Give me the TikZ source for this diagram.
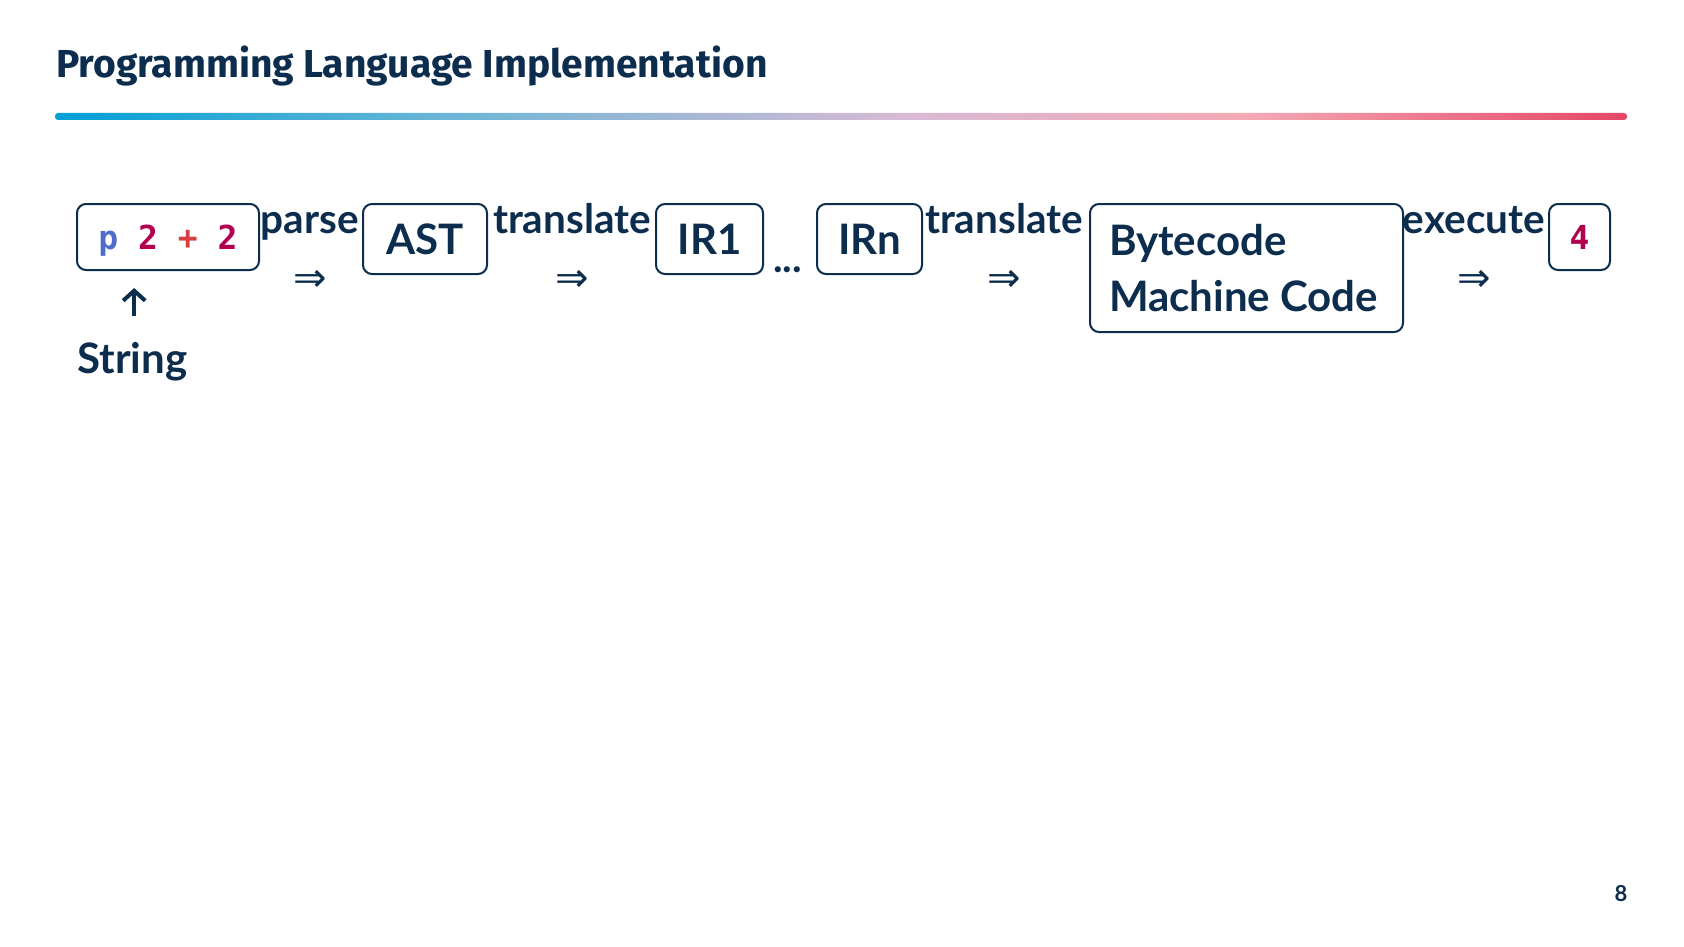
\documentclass[tikz,border=0pt]{standalone}
\usepackage{fontspec}
\setmainfont{Lato}
\setmonofont{DejaVu Sans Mono}
\newfontfamily\titlefont{Fira Sans}
\newfontfamily\arrowfont{DejaVu Sans}
\usetikzlibrary{positioning,arrows.meta}

\definecolor{navy}{RGB}{12,45,77}
\definecolor{kwblue}{RGB}{78,108,200}
\definecolor{numred}{RGB}{178,0,78}
\definecolor{opred}{RGB}{214,62,64}
\definecolor{barA}{RGB}{0,160,214}
\definecolor{barB}{RGB}{112,182,214}
\definecolor{barC}{RGB}{216,186,212}
\definecolor{barD}{RGB}{244,168,180}
\definecolor{barE}{RGB}{228,70,102}
\pgfdeclarehorizontalshading{titlebar}{100bp}{color(0bp)=(barA); color(25bp)=(barA); color(38bp)=(barB); color(52bp)=(barC); color(63bp)=(barD); color(75bp)=(barE); color(100bp)=(barE)}

\newcommand{\bodyfont}{\bfseries\fontsize{42}{56}\selectfont}
\newcommand{\passfont}{\bfseries\fontsize{40.5}{40.5}\selectfont}
\newcommand{\codefont}{\ttfamily\bfseries\fontsize{33}{40}\selectfont}

\tikzset{
    box/.style = {draw = navy, line width = 2pt, rounded corners = 9pt, text = navy, anchor = north west, inner xsep = 0pt, inner ysep = 20pt},
    stage/.style = {box, font = \bodyfont, text height = 30pt, text depth = 0pt},
    codebox/.style = {box, font = \codefont, text height = 25pt, text depth = 1pt},
    pass/.style = {text = navy, font = \passfont, inner sep = 0pt, anchor = base},
    thenarrow/.style = {text = navy, font = \arrowfont\fontsize{40}{40}\selectfont, inner sep = 0pt},
    uparrow/.style = {draw = navy, line width = 4pt, -{Straight Barb[length = 10pt, width = 22pt]}}
}

\begin{document}
\begin{tikzpicture}[x = 1pt, y = -1pt]
        \useasboundingbox (0, 0) rectangle (1684, 947);
        % title and bar
        \node [anchor = base west, inner sep = 0pt, text = navy, font = \titlefont\bfseries\fontsize{39}{39}\selectfont] (title) at (56, 78) {Programming Language Implementation};
        \shade [shading = titlebar, rounded corners = 3pt] (55, 113) rectangle (1627, 120);
        % pipeline
        \node [codebox, minimum width = 182pt] (src) at (76, 203) {\textcolor{kwblue}{p} \textcolor{numred}{2} \textcolor{opred}{+} \textcolor{numred}{2}};
        \node [pass] (parse) at (310, 233) {parse};
        \node [thenarrow] (a1) at (310, 281) {⇒};
        \node [stage, minimum width = 124pt] (ast) at (362, 203) {AST};
        \node [pass] (tr1) at (572, 233) {translate};
        \node [thenarrow] (a2) at (572, 281) {⇒};
        \node [stage, minimum width = 107pt] (ir1) at (655, 203) {IR1};
        \node [pass, anchor = base west] (dots) at (773, 272) {...};
        \node [stage, minimum width = 105pt] (irn) at (816, 203) {IRn};
        \node [pass] (tr2) at (1004, 233) {translate};
        \node [thenarrow] (a3) at (1004, 281) {⇒};
        \node [box, font = \bodyfont, align = left, text width = 275pt, inner xsep = 19pt, minimum height = 128pt] (code) at (1089, 203) {Bytecode\\Machine\hspace{10pt}Code};
        \node [pass] (exe) at (1474, 233) {execute};
        \node [thenarrow] (a4) at (1474, 281) {⇒};
        \node [codebox, minimum width = 61pt] (res) at (1548, 203) {\textcolor{numred}{4}};
        % input is a string
        \node [pass, font = \bodyfont, anchor = base west, text height = 30pt] (str) at (77, 373) {String};
        \draw [uparrow, shorten < = 27pt, shorten > = 17pt] ([xshift = 2pt]str.north) -- ([xshift = 2pt]str.north |- src.south);
        \node [anchor = base, inner sep = 0pt, text = navy, font = \bfseries\fontsize{22}{22}\selectfont] (page) at (1621, 901) {8};
\end{tikzpicture}
\end{document}
